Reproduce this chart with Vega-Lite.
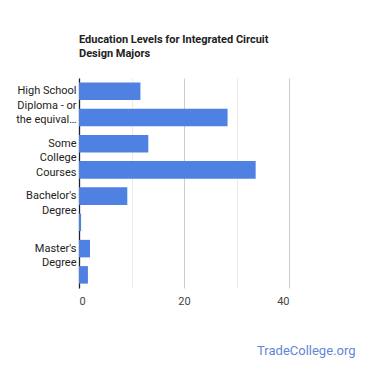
{
  "$schema": "https://vega.github.io/schema/vega-lite/v6.json",
  "width": 210,
  "height": 210,
  "autosize": {"type": "none"},
  "padding": {"left": 79, "top": 78, "right": 81, "bottom": 82},
  "background": "white",
  "title": {
    "text": ["Education Levels for Integrated Circuit", "Design Majors"],
    "anchor": "start",
    "frame": "group",
    "font": "Roboto",
    "fontSize": 11,
    "fontWeight": "bold",
    "color": "#222222",
    "lineHeight": 14,
    "offset": 19
  },
  "data": {
    "values": [
      {"level": "High School Diploma - or the equivalent", "pct": 11.7},
      {"level": "Post-Secondary Certificate", "pct": 28.3},
      {"level": "Some College Courses", "pct": 13.2},
      {"level": "Associate's Degree", "pct": 33.65},
      {"level": "Bachelor's Degree", "pct": 9.2},
      {"level": "Post-Baccalaureate Certificate", "pct": 0.4},
      {"level": "Master's Degree", "pct": 2.1},
      {"level": "Doctoral Degree", "pct": 1.7}
    ]
  },
  "mark": {"type": "bar", "color": "#4f81e2"},
  "encoding": {
    "y": {
      "field": "level",
      "type": "nominal",
      "sort": null,
      "scale": {"paddingInner": 0.333, "paddingOuter": 0.167},
      "axis": {
        "title": null,
        "ticks": false,
        "domain": true,
        "domainColor": "#222222",
        "domainWidth": 1.3,
        "labelFont": "Roboto",
        "labelFontSize": 11,
        "labelColor": "#222222",
        "labelPadding": 3,
        "labelLineHeight": 14.5,
        "labelLimit": 0,
        "labelExpr": "datum.value == 'High School Diploma - or the equivalent' ? ['High School', 'Diploma - or', 'the equival…'] : datum.value == 'Some College Courses' ? ['Some', 'College', 'Courses'] : datum.value == \"Bachelor's Degree\" ? [\"Bachelor's\", 'Degree'] : datum.value == \"Master's Degree\" ? [\"Master's\", 'Degree'] : ''"
      }
    },
    "x": {
      "field": "pct",
      "type": "quantitative",
      "scale": {"domain": [0, 40], "nice": false},
      "axis": {
        "title": "TradeCollege.org",
        "titleFont": "Roboto",
        "titleFontSize": 13,
        "titleFontWeight": "normal",
        "titleColor": "#5f87d6",
        "titleAnchor": "end",
        "titleAlign": "right",
        "titleX": 276,
        "titleY": 56,
        "values": [0, 10, 20, 30, 40],
        "labelExpr": "datum.value % 20 == 0 ? datum.label : ''",
        "domain": false,
        "ticks": false,
        "grid": true,
        "gridColor": {"condition": {"test": "datum.value % 20 == 0", "value": "#cccccc"}, "value": "#ebebeb"},
        "labelFont": "Roboto",
        "labelFontSize": 11,
        "labelColor": "#444444",
        "labelPadding": 7
      }
    }
  },
  "config": {"view": {"stroke": null}}
}
